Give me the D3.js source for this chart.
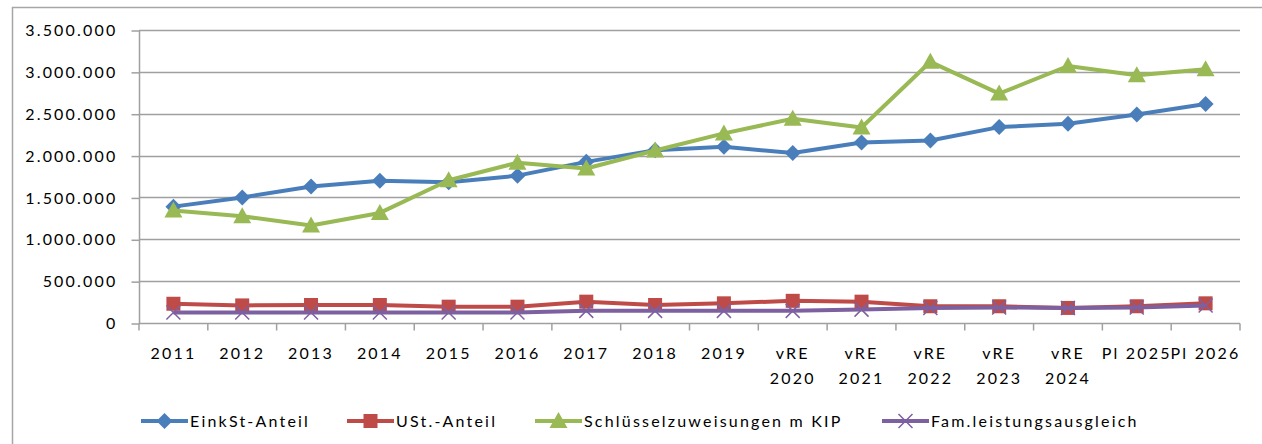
<!DOCTYPE html>
<html>
<head>
<meta charset="utf-8">
<script src="https://cdn.jsdelivr.net/npm/d3@7"></script>
<style>
body { margin: 0; background: #fff; }
svg { display: block; }
text { font-family: Lato, "Open Sans", sans-serif; font-size: 16px; letter-spacing: 2.2px; fill: #000; }
</style>
</head>
<body>
<svg width="1262" height="444"></svg>
<script>
const categories = ["2011","2012","2013","2014","2015","2016","2017","2018","2019",
    "vRE 2020","vRE 2021","vRE 2022","vRE 2023","vRE 2024","Pl 2025","Pl 2026"];

const einkSt = [1390000,1500000,1630000,1700000,1680000,1760000,1925000,2065000,2105000,
    2030000,2155000,2180000,2340000,2380000,2490000,2615000];
const ust = [230000,210000,215000,215000,195000,195000,255000,215000,235000,
    265000,255000,200000,200000,180000,200000,235000];
const schluessel = [1345000,1275000,1165000,1315000,1705000,1915000,1845000,2060000,2265000,
    2440000,2335000,3120000,2740000,3070000,2960000,3030000];
const fam = [125000,125000,125000,125000,125000,125000,145000,145000,145000,
    145000,160000,180000,185000,180000,185000,210000];

const series = [
    {name:"EinkSt-Anteil", values:einkSt, color:"#4a7ebb", marker:"diamond"},
    {name:"USt.-Anteil", values:ust, color:"#be4b48", marker:"square"},
    {name:"Schlüsselzuweisungen m KIP", values:schluessel, color:"#98b954", marker:"triangle"},
    {name:"Fam.leistungsausgleich", values:fam, color:"#7d60a0", marker:"x"}
];

const yTicks = [0,500000,1000000,1500000,2000000,2500000,3000000,3500000];

const svg = d3.select("svg");

const plotLeft = 139, plotRight = 1240, plotTop = 30, plotBottom = 323;

const x = d3.scaleBand()
    .domain(categories)
    .range([plotLeft,plotRight]);

const y = d3.scaleLinear()
    .domain([0,3500000])
    .range([plotBottom,plotTop]);

const fmt = v => v == 0 ? "0" : d3.format(",")(v).replace(/,/g,".");

// outer frame (top + left only visible)
svg.append("line").attr("x1",12).attr("x2",1262).attr("y1",7.5).attr("y2",7.5)
    .attr("stroke","#a6a6a6").attr("stroke-width",1.5);
svg.append("line").attr("x1",12.5).attr("x2",12.5).attr("y1",7).attr("y2",444)
    .attr("stroke","#a6a6a6").attr("stroke-width",1.5);

// gridlines
svg.append("g")
    .selectAll("line")
    .data(yTicks.slice(1))
    .enter()
    .append("line")
    .attr("x1",plotLeft)
    .attr("x2",plotRight)
    .attr("y1",d=>Math.round(y(d))+0.5)
    .attr("y2",d=>Math.round(y(d))+0.5)
    .attr("stroke","#a0a0a0")
    .attr("stroke-width",1.5);

// y axis
let yAxis = svg.append("g")
    .attr("transform","translate("+(plotLeft+0.5)+",0.5)")
    .call(d3.axisLeft(y).tickValues(yTicks).tickSize(8).tickPadding(14).tickFormat(fmt));
yAxis.attr("font-family",null).attr("font-size",null);
yAxis.selectAll("path,line").attr("stroke","#a0a0a0").attr("stroke-width",1.5);
yAxis.select(".domain").attr("d","M0,"+plotTop+"V"+plotBottom);

// x axis
let xAxis = svg.append("g")
    .attr("transform","translate(0,"+(plotBottom+0.5)+")");
xAxis.append("line").attr("x1",plotLeft).attr("x2",plotRight).attr("stroke","#a0a0a0").attr("stroke-width",1.5);
xAxis.selectAll(".tk")
    .data(categories.concat(["end"]))
    .enter()
    .append("line")
    .attr("x1",(d,i)=>plotLeft+i*x.bandwidth())
    .attr("x2",(d,i)=>plotLeft+i*x.bandwidth())
    .attr("y1",0).attr("y2",7)
    .attr("stroke","#a0a0a0").attr("stroke-width",1.5);

categories.forEach(function(c){
    let parts = c.startsWith("vRE") ? c.split(" ") : [c];
    let t = xAxis.append("text")
        .attr("text-anchor","middle")
        .attr("x",x(c)+x.bandwidth()/2);
    parts.forEach(function(p,i){
        t.append("tspan")
            .attr("x",x(c)+x.bandwidth()/2)
            .attr("y",35+i*25)
            .text(p);
    });
});

function drawMarker(g, type, cx, cy, color){
    if(type=="diamond"){
        g.append("path").attr("d","M0,-8L8,0L0,8L-8,0Z")
            .attr("transform","translate("+cx+","+cy+")").attr("fill",color);
    }else if(type=="square"){
        g.append("rect").attr("x",cx-7).attr("y",cy-7).attr("width",14).attr("height",14)
            .attr("fill",color);
    }else if(type=="triangle"){
        g.append("path").attr("d","M0,-9L9,7L-9,7Z")
            .attr("transform","translate("+cx+","+cy+")").attr("fill",color);
    }else{
        g.append("path").attr("d","M-7,-7L7,7M-7,7L7,-7")
            .attr("transform","translate("+cx+","+cy+")")
            .attr("stroke",color).attr("stroke-width",1.5).attr("fill","none");
    }
}

const line = d3.line()
    .x((d,i)=>x(categories[i])+x.bandwidth()/2)
    .y(d=>y(d));

series.forEach(function(s){
    let g = svg.append("g");
    g.append("path")
        .datum(s.values)
        .attr("d",line)
        .attr("fill","none")
        .attr("stroke",s.color)
        .attr("stroke-width",4)
        .attr("stroke-linejoin","round");
    s.values.forEach(function(v,i){
        drawMarker(g, s.marker, x(categories[i])+x.bandwidth()/2, y(v), s.color);
    });
});

// legend
const legendX = [141,347,535,882];
series.forEach(function(s,i){
    let g = svg.append("g").attr("transform","translate("+legendX[i]+",421)");
    g.append("line").attr("x1",0).attr("x2",47).attr("y1",0).attr("y2",0)
        .attr("stroke",s.color).attr("stroke-width",4);
    drawMarker(g, s.marker, 23.5, 0, s.color);
    g.append("text").attr("x",49).attr("y",6).text(s.name);
});
</script>
</body>
</html>
